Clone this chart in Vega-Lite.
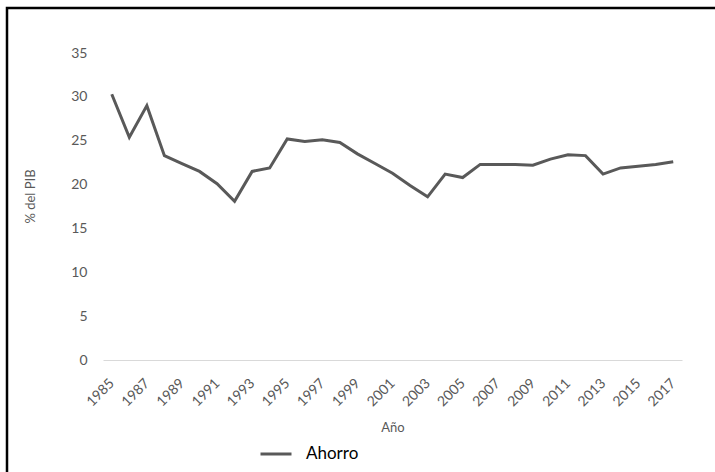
{
  "$schema": "https://vega.github.io/schema/vega-lite/v6.json",
  "width": 708,
  "height": 464,
  "autosize": {"type": "none"},
  "padding": {"left": 7, "top": 8, "right": 0, "bottom": 0},
  "background": "white",
  "config": {
    "view": {"stroke": "#000000", "strokeWidth": 2.5, "strokeDash": [708, 1172, 464]},
    "font": "Lato"
  },
  "data": {
    "values": [
      {"year": 1985, "ahorro": 30.3, "serie": "Ahorro"},
      {"year": 1986, "ahorro": 25.4, "serie": "Ahorro"},
      {"year": 1987, "ahorro": 29.0, "serie": "Ahorro"},
      {"year": 1988, "ahorro": 23.3, "serie": "Ahorro"},
      {"year": 1989, "ahorro": 22.4, "serie": "Ahorro"},
      {"year": 1990, "ahorro": 21.5, "serie": "Ahorro"},
      {"year": 1991, "ahorro": 20.1, "serie": "Ahorro"},
      {"year": 1992, "ahorro": 18.1, "serie": "Ahorro"},
      {"year": 1993, "ahorro": 21.5, "serie": "Ahorro"},
      {"year": 1994, "ahorro": 21.9, "serie": "Ahorro"},
      {"year": 1995, "ahorro": 25.2, "serie": "Ahorro"},
      {"year": 1996, "ahorro": 24.9, "serie": "Ahorro"},
      {"year": 1997, "ahorro": 25.1, "serie": "Ahorro"},
      {"year": 1998, "ahorro": 24.8, "serie": "Ahorro"},
      {"year": 1999, "ahorro": 23.5, "serie": "Ahorro"},
      {"year": 2000, "ahorro": 22.4, "serie": "Ahorro"},
      {"year": 2001, "ahorro": 21.3, "serie": "Ahorro"},
      {"year": 2002, "ahorro": 19.9, "serie": "Ahorro"},
      {"year": 2003, "ahorro": 18.6, "serie": "Ahorro"},
      {"year": 2004, "ahorro": 21.2, "serie": "Ahorro"},
      {"year": 2005, "ahorro": 20.8, "serie": "Ahorro"},
      {"year": 2006, "ahorro": 22.3, "serie": "Ahorro"},
      {"year": 2007, "ahorro": 22.3, "serie": "Ahorro"},
      {"year": 2008, "ahorro": 22.3, "serie": "Ahorro"},
      {"year": 2009, "ahorro": 22.2, "serie": "Ahorro"},
      {"year": 2010, "ahorro": 22.9, "serie": "Ahorro"},
      {"year": 2011, "ahorro": 23.4, "serie": "Ahorro"},
      {"year": 2012, "ahorro": 23.3, "serie": "Ahorro"},
      {"year": 2013, "ahorro": 21.2, "serie": "Ahorro"},
      {"year": 2014, "ahorro": 21.9, "serie": "Ahorro"},
      {"year": 2015, "ahorro": 22.1, "serie": "Ahorro"},
      {"year": 2016, "ahorro": 22.3, "serie": "Ahorro"},
      {"year": 2017, "ahorro": 22.6, "serie": "Ahorro"}
    ]
  },
  "mark": {"type": "line", "strokeWidth": 3},
  "encoding": {
    "x": {
      "field": "year",
      "type": "ordinal",
      "scale": {"type": "point", "range": [96, 675], "padding": 0.5},
      "axis": {
        "values": [1985, 1987, 1989, 1991, 1993, 1995, 1997, 1999, 2001, 2003, 2005, 2007, 2009, 2011, 2013, 2015, 2017],
        "labelAngle": -45,
        "labelAlign": "right",
        "labelBaseline": "middle",
        "ticks": false,
        "grid": false,
        "offset": -112,
        "domainColor": "#d9d9d9",
        "domainWidth": 1,
        "labelColor": "#595959",
        "labelFontSize": 14,
        "labelPadding": 21,
        "title": "Año",
        "titleColor": "#595959",
        "titleFontSize": 13,
        "titleFontWeight": "normal",
        "titlePadding": 13
      }
    },
    "y": {
      "field": "ahorro",
      "type": "quantitative",
      "scale": {"domain": [0, 35], "range": [352, 45]},
      "axis": {
        "values": [0, 5, 10, 15, 20, 25, 30, 35],
        "domain": false,
        "ticks": false,
        "grid": false,
        "offset": -84,
        "labelPadding": 4,
        "labelColor": "#595959",
        "labelFontSize": 14,
        "title": "% del PIB",
        "titleColor": "#595959",
        "titleFontSize": 13,
        "titleFontWeight": "normal",
        "titleX": -54,
        "titleY": 188
      }
    },
    "color": {
      "field": "serie",
      "type": "nominal",
      "scale": {"range": ["#595959"]},
      "legend": {
        "orient": "none",
        "legendX": 252,
        "legendY": 429,
        "direction": "horizontal",
        "title": null,
        "symbolType": "stroke",
        "symbolSize": 961,
        "symbolStrokeWidth": 3,
        "labelFontSize": 17,
        "labelColor": "#000000",
        "labelOffset": 13
      }
    }
  }
}
